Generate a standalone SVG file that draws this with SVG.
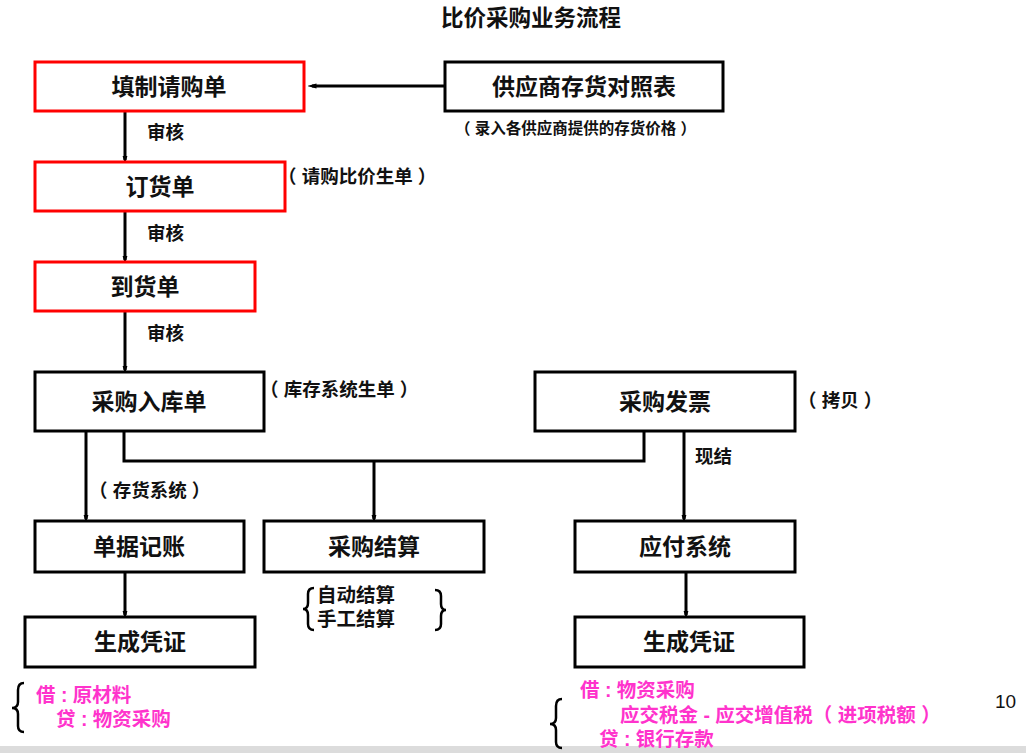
<svg xmlns="http://www.w3.org/2000/svg" width="1026" height="753" viewBox="0 0 1026 753">
<style>
.t{font-family:"Liberation Sans","Noto Sans CJK SC",sans-serif;font-weight:bold;fill:#111;white-space:pre}
.box{fill:#fff;stroke:#000;stroke-width:3}
.red{fill:#fff;stroke:#f00;stroke-width:3}
.bt{font-size:23px;text-anchor:middle}
.lb{font-size:18.5px}
.pk{font-family:"Liberation Sans","Noto Sans CJK SC",sans-serif;font-weight:bold;fill:#ff33cc;font-size:19.5px;white-space:pre}
.ln{fill:none;stroke:#000;stroke-width:3}
.br{fill:none;stroke:#000;stroke-width:2.5}
</style>
<defs>
<marker id="ah" markerWidth="9" markerHeight="16" refX="8" refY="4.5" orient="auto" markerUnits="userSpaceOnUse" viewBox="0 0 16 9">
<path d="M0,0 L16,4.5 L0,9 Z" fill="#000"/>
</marker>
</defs>
<rect x="0" y="0" width="1026" height="753" fill="#fff"/>
<rect x="0" y="746" width="1026" height="7" fill="#dcdcdc"/>
<text class="t" x="531" y="26" font-size="22.5" text-anchor="middle">比价采购业务流程</text>

<g id="connectors">
<line class="ln" x1="444" y1="86" x2="312" y2="86" marker-end="url(#ah)"/>
<line class="ln" x1="125" y1="112" x2="125" y2="160" marker-end="url(#ah)"/>
<line class="ln" x1="125" y1="212" x2="125" y2="260" marker-end="url(#ah)"/>
<line class="ln" x1="125" y1="312" x2="125" y2="370" marker-end="url(#ah)"/>
<line class="ln" x1="86" y1="432" x2="86" y2="519" marker-end="url(#ah)"/>
<polyline class="ln" points="124,432 124,461 644,461 644,432"/>
<line class="ln" x1="374" y1="461" x2="374" y2="519" marker-end="url(#ah)"/>
<line class="ln" x1="684" y1="432" x2="684" y2="519" marker-end="url(#ah)"/>
<line class="ln" x1="125" y1="573" x2="125" y2="615" marker-end="url(#ah)"/>
<line class="ln" x1="686" y1="573" x2="686" y2="615" marker-end="url(#ah)"/>
</g>

<g id="n1"><rect class="red" x="35" y="62" width="269" height="49"/><text class="t bt" x="169" y="95">填制请购单</text></g>
<g id="n2"><rect class="box" x="445" y="62" width="278" height="49"/><text class="t bt" x="584" y="95">供应商存货对照表</text></g>
<g id="n3"><rect class="red" x="35" y="162" width="250" height="49"/><text class="t bt" x="160" y="195">订货单</text></g>
<g id="n4"><rect class="red" x="35" y="262" width="220" height="49"/><text class="t bt" x="145" y="295">到货单</text></g>
<g id="n5"><rect class="box" x="35" y="372" width="229" height="59"/><text class="t bt" x="149" y="410">采购入库单</text></g>
<g id="n6"><rect class="box" x="535" y="372" width="260" height="59"/><text class="t bt" x="665" y="410">采购发票</text></g>
<g id="n7"><rect class="box" x="35" y="521" width="209" height="51"/><text class="t bt" x="139" y="555">单据记账</text></g>
<g id="n8"><rect class="box" x="264" y="521" width="220" height="51"/><text class="t bt" x="374" y="555">采购结算</text></g>
<g id="n9"><rect class="box" x="575" y="521" width="220" height="51"/><text class="t bt" x="685" y="555">应付系统</text></g>
<g id="n10"><rect class="box" x="25" y="617" width="230" height="50"/><text class="t bt" x="140" y="650">生成凭证</text></g>
<g id="n11"><rect class="box" x="575" y="617" width="229" height="50"/><text class="t bt" x="689" y="650">生成凭证</text></g>

<g id="labels">
<text class="t" x="455" y="134" font-size="15.5">（ 录入各供应商提供的存货价格 ）</text>
<text class="t lb" x="147" y="139">审核</text>
<text class="t lb" x="147" y="240">审核</text>
<text class="t lb" x="147" y="340">审核</text>
<text class="t lb" x="278" y="183">（ 请购比价生单 ）</text>
<text class="t lb" x="260" y="396">（ 库存系统生单 ）</text>
<text class="t lb" x="798" y="407">（ 拷贝 ）</text>
<text class="t lb" x="89" y="497">（ 存货系统 ）</text>
<text class="t lb" x="695" y="463">现结</text>
<text class="t" x="317" y="602" font-size="19.5">自动结算</text>
<text class="t" x="317" y="626" font-size="19.5">手工结算</text>
<text x="995" y="708" font-family="Liberation Sans,sans-serif" font-size="19" fill="#111">10</text>
</g>

<g id="braces">
<path class="br" d="M314,588 Q308,588 308,594 L308,603 Q308,609 303,609 Q308,609 308,615 L308,624 Q308,630 314,630"/>
<path class="br" d="M435,590 Q441,590 441,596 L441,604 Q441,610 446,610 Q441,610 441,616 L441,624 Q441,630 435,630"/>
<path class="br" d="M24,683 Q18,683 18,690 L18,702 Q18,708 12,708 Q18,708 18,714 L18,726 Q18,732 24,732"/>
<path class="br" d="M562,699 Q556,699 556,706 L556,718 Q556,724 550,724 Q556,724 556,730 L556,742 Q556,748 562,748"/>
</g>

<g id="entries">
<text class="pk" x="36" y="702">借 : 原材料</text>
<text class="pk" x="56" y="726">贷 : 物资采购</text>
<text class="pk" x="580" y="697">借 : 物资采购</text>
<text class="pk" x="620" y="722">应交税金 - 应交增值税（ 进项税额 ）</text>
<text class="pk" x="599" y="746">贷 : 银行存款</text>
</g>
</svg>
